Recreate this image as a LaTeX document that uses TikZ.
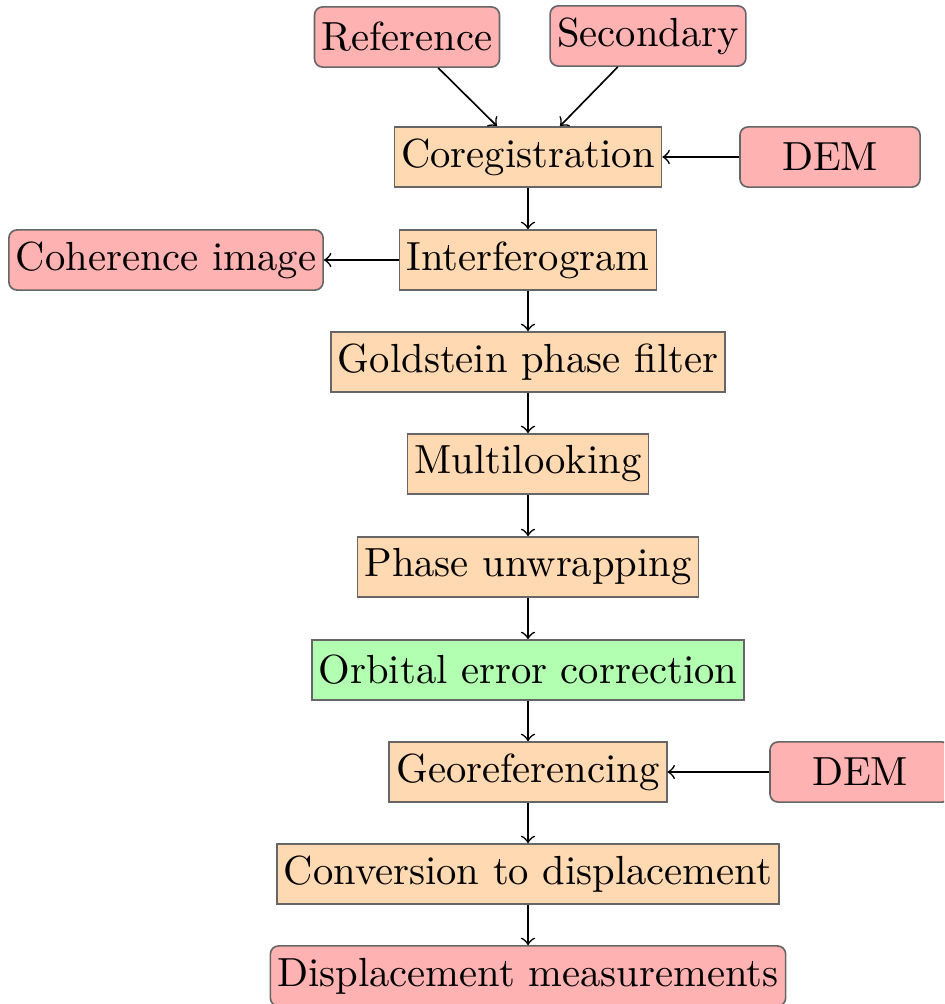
\documentclass[tikz,border=0pt]{standalone}
\usetikzlibrary{calc}
\begin{document}
\begin{tikzpicture}[x=0.246pt,y=-0.246pt,
 proc/.style={draw=black!60,fill=orange!30,inner xsep=1.7pt,inner ysep=2.8pt,minimum height=14.8pt},
 corr/.style={draw=black!60,fill=green!30,inner xsep=1.7pt,inner ysep=2.8pt,minimum height=14.8pt},
 data/.style={draw=black!60,fill=red!30,rounded corners=2pt,inner xsep=1.7pt,inner ysep=2.8pt,minimum height=14.8pt},
 dem/.style={data,minimum width=44.3pt}]
 \useasboundingbox (0,0) rectangle (944,1004);
 \clip (0,0) rectangle (944,1004);
 \node[data] (ref) at (407,37) {Reference};
 \node[data] (sec) at (648,36) {Secondary};
 \node[proc] (coreg) at (528,157) {Coregistration};
 \node[dem] (dem1) at (830,157) {DEM};
 \node[proc] (interf) at (528,260) {Interferogram};
 \node[data] (coh) at (166,260) {Coherence image};
 \node[proc] (gold) at (528,362) {Goldstein phase filter};
 \node[proc] (multi) at (528,464) {Multilooking};
 \node[proc] (unwrap) at (528,567) {Phase unwrapping};
 \node[corr] (orbit) at (528,670) {Orbital error correction};
 \node[proc] (georef) at (528,772) {Georeferencing};
 \node[dem] (dem2) at (860,772) {DEM};
 \node[proc] (conv) at (528,874) {Conversion to displacement};
 \node[data] (disp) at (528,976) {Displacement measurements};
 \draw[->] (ref) -- ($(coreg.north)+(-31,0)$);
 \draw[->] (sec) -- ($(coreg.north)+(32,0)$);
 \draw[->] (dem1) -- (coreg);
 \draw[->] (interf) -- (coh);
 \draw[->] (dem2) -- (georef);
 \draw[->] (coreg) -- (interf);
 \draw[->] (interf) -- (gold);
 \draw[->] (gold) -- (multi);
 \draw[->] (multi) -- (unwrap);
 \draw[->] (unwrap) -- (orbit);
 \draw[->] (orbit) -- (georef);
 \draw[->] (georef) -- (conv);
 \draw[->] (conv) -- (disp);
\end{tikzpicture}
\end{document}
